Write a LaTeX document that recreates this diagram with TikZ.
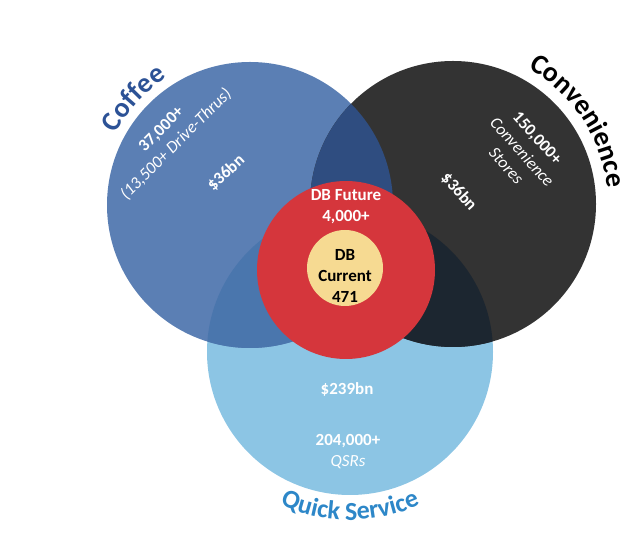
\documentclass[tikz,border=0pt]{standalone}
\usepackage{fontspec}
\setmainfont{Carlito}
\usetikzlibrary{decorations.text}

\definecolor{coffeeblue}{RGB}{91,127,180}
\definecolor{convgrey}{RGB}{51,51,51}
\definecolor{qsblue}{RGB}{140,197,228}
\definecolor{coffeeconv}{RGB}{47,77,128}
\definecolor{coffeeqs}{RGB}{74,118,173}
\definecolor{convqs}{RGB}{28,38,48}
\definecolor{dbred}{RGB}{213,54,60}
\definecolor{dbyellow}{RGB}{246,218,146}
\definecolor{coffeetitle}{RGB}{44,82,150}
\definecolor{qstitle}{RGB}{45,135,200}

\begin{document}
\begin{tikzpicture}[x=1pt, y=1pt,
    num/.style={text=white, align=center, font=\bfseries\fontsize{17}{21}\selectfont},
    dbtext/.style={text=black, align=center, font=\bfseries\fontsize{17}{21}\selectfont},
    arctitle/.style={decorate, decoration={text along path, text align=center, text color=#1}}]
    \useasboundingbox (0,0) rectangle (640,554);

    \coordinate (coffee) at (250,349);
    \coordinate (conv) at (453,350);
    \coordinate (qs) at (350,202);
    \coordinate (db) at (346,284);

    % the three markets
    \fill[qsblue] (qs) circle (143);
    \fill[coffeeblue] (coffee) circle (143);
    \fill[convgrey] (conv) circle (143);
    \begin{scope}
        \clip (coffee) circle (143);
        \fill[coffeeqs] (qs) circle (143);
    \end{scope}
    \begin{scope}
        \clip (conv) circle (143);
        \fill[convqs] (qs) circle (143);
    \end{scope}
    \begin{scope}
        \clip (coffee) circle (143);
        \fill[coffeeconv] (conv) circle (143);
    \end{scope}

    % DB future and current
    \fill[dbred] (db) circle (89);
    \fill[dbyellow] (345,286) circle (38);

    % titles along the circles
    \path[arctitle=coffeetitle, decoration={text={|\bfseries\fontsize{28}{28}\selectfont|Coffee}}]
        ([shift={(165:152)}]coffee) arc[start angle=165, end angle=110, radius=152];
    \path[arctitle=black, decoration={text={|\bfseries\fontsize{28}{28}\selectfont|Convenience}}]
        ([shift={(70:155)}]conv) arc[start angle=70, end angle=-3, radius=155];
    \path[arctitle=qstitle, decoration={text={|\bfseries\fontsize{26}{26}\selectfont|Quick Service}}]
        ([shift={(235:168)}]qs) arc[start angle=235, end angle=305, radius=168];

    % coffee
    \node[num, rotate=45] (coffeestores) at (169,417) {37,000+\\\textit{\mdseries(13,500+ Drive-Thrus)}};
    \node[num, rotate=43] (coffeesales) at (226,381) {\$36bn};

    % convenience
    \node[num, rotate=-48] (convstores) at (522,402) {150,000+\\\textit{\mdseries Convenience}\\\textit{\mdseries Stores}};
    \node[num, rotate=-48] (convsales) at (459,362) {\$36bn};

    % quick service
    \node[num] (qssales) at (347,165) {\$239bn};
    \node[num] (qsstores) at (348,102) {204,000+\\\textit{\mdseries QSRs}};

    % DB
    \node[num] (dbfuture) at (346,347.5) {DB Future\\4,000+};
    \node[dbtext] (dbcurrent) at (345,278) {DB\\Current\\471};
\end{tikzpicture}
\end{document}
